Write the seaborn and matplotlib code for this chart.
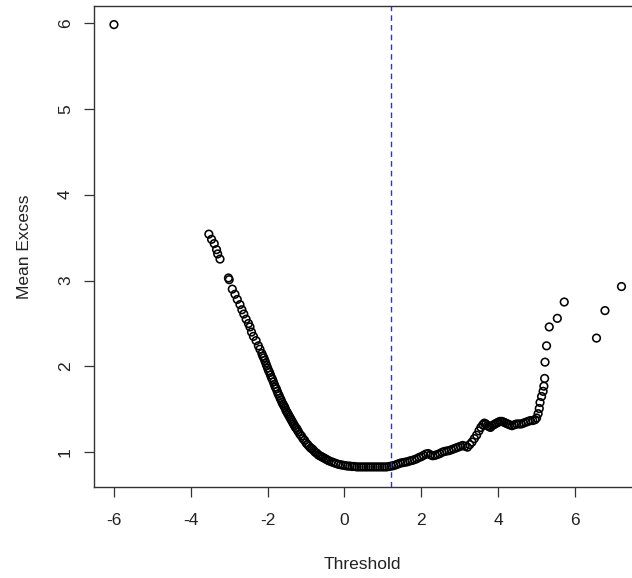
"""Mean excess plot: mean excess vs. threshold, with the chosen threshold marked."""
import matplotlib
matplotlib.use("Agg")
import matplotlib.pyplot as plt
import numpy as np
import pandas as pd
import seaborn as sns

# valores (threshold, mean excess)
threshold = [
    -6.00,
    -3.53, -3.46, -3.39, -3.33, -3.30, -3.24,
    -3.02, -3.00, -2.92, -2.85, -2.79, -2.72, -2.67, -2.62, -2.56, -2.50,
    -2.46, -2.42, -2.37, -2.30, -2.24, -2.20,
    -2.150, -2.125, -2.100, -2.075, -2.050, -2.025, -2.000, -1.975, -1.950, -1.925,
    -1.900, -1.875, -1.850, -1.825, -1.800, -1.775, -1.750, -1.725, -1.700, -1.675,
    -1.650, -1.625, -1.600, -1.575, -1.550, -1.525, -1.500, -1.475, -1.450, -1.425,
    -1.400, -1.375, -1.350, -1.325, -1.300, -1.275, -1.250, -1.225, -1.200,
    -1.16, -1.12, -1.08, -1.04, -1.00, -0.96, -0.92, -0.88, -0.84, -0.80,
    -0.76, -0.72, -0.68, -0.64, -0.60, -0.56, -0.52, -0.48, -0.44, -0.40,
    -0.34, -0.28, -0.22, -0.16, -0.10, -0.04, 0.02, 0.08, 0.14, 0.20,
    0.26, 0.32, 0.38, 0.44, 0.50, 0.56, 0.62, 0.68, 0.74, 0.80,
    0.86, 0.92, 0.98, 1.04, 1.10, 1.16, 1.22, 1.28, 1.34, 1.40,
    1.46, 1.52, 1.58, 1.64, 1.70, 1.76, 1.82, 1.88, 1.94, 2.00,
    2.06, 2.12, 2.18, 2.24, 2.30, 2.36, 2.42, 2.48, 2.54, 2.60,
    2.66, 2.72, 2.78, 2.84, 2.90, 2.96, 3.02, 3.08, 3.14, 3.20,
    3.26, 3.32, 3.38, 3.44, 3.50,
    3.55, 3.60, 3.64, 3.68, 3.72, 3.76, 3.80, 3.84, 3.88, 3.92,
    3.96, 4.00, 4.05, 4.10, 4.15, 4.20, 4.25, 4.30, 4.36, 4.42,
    4.48, 4.54, 4.60, 4.66, 4.72, 4.78, 4.84, 4.90, 4.96, 5.00,
    5.04, 5.07, 5.09, 5.13, 5.17, 5.19, 5.21, 5.22, 5.26, 5.33,
    5.54, 5.72, 6.56, 6.78, 7.21,
]
mean_excess = [
    5.98,
    3.54, 3.48, 3.43, 3.36, 3.31, 3.25,
    3.03, 3.01, 2.90, 2.84, 2.78, 2.72, 2.66, 2.61, 2.55, 2.50,
    2.46, 2.40, 2.35, 2.30, 2.24, 2.20,
    2.15, 2.12, 2.10, 2.07, 2.04, 2.01, 1.98, 1.95, 1.93, 1.90,
    1.87, 1.85, 1.82, 1.79, 1.76, 1.74, 1.71, 1.68, 1.66, 1.63,
    1.61, 1.58, 1.56, 1.54, 1.52, 1.49, 1.47, 1.45, 1.43, 1.41,
    1.39, 1.37, 1.35, 1.33, 1.31, 1.29, 1.28, 1.26, 1.24,
    1.21, 1.19, 1.16, 1.14, 1.11, 1.09, 1.07, 1.05, 1.04, 1.02,
    1.00, 0.99, 0.97, 0.96, 0.95, 0.94, 0.93, 0.92, 0.91, 0.90,
    0.89, 0.88, 0.87, 0.86, 0.855, 0.85, 0.845, 0.84, 0.84, 0.835,
    0.835, 0.83, 0.83, 0.83, 0.83, 0.83, 0.83, 0.83, 0.83, 0.83,
    0.83, 0.83, 0.83, 0.83, 0.83, 0.835, 0.84, 0.845, 0.855, 0.865,
    0.875, 0.88, 0.885, 0.89, 0.90, 0.905, 0.915, 0.925, 0.94, 0.95,
    0.965, 0.98, 0.985, 0.97, 0.96, 0.965, 0.975, 0.985, 1.00, 1.01,
    1.015, 1.02, 1.03, 1.04, 1.05, 1.06, 1.07, 1.08, 1.07, 1.06,
    1.09, 1.12, 1.16, 1.20, 1.25,
    1.29, 1.32, 1.34, 1.33, 1.31, 1.30, 1.29, 1.31, 1.32, 1.33,
    1.34, 1.35, 1.36, 1.36, 1.35, 1.34, 1.33, 1.32, 1.31, 1.32,
    1.33, 1.33, 1.33, 1.34, 1.35, 1.36, 1.37, 1.37, 1.38, 1.40,
    1.45, 1.51, 1.58, 1.65, 1.71, 1.77, 1.86, 2.05, 2.24, 2.46,
    2.56, 2.75, 2.33, 2.65, 2.93,
]
chosen_threshold = 1.2
x_ticks = [-6, -4, -2, 0, 2, 4, 6]
y_ticks = [1, 2, 3, 4, 5, 6]

df = pd.DataFrame({"Threshold": threshold, "Mean Excess": mean_excess})

sns.set_theme(style="ticks")
plt.rcParams["font.family"] = ["Liberation Sans", "DejaVu Sans"]

fig = plt.figure(figsize=(6.32, 5.78), dpi=100)
ax = fig.add_axes([0.1487, 0.1580, 0.8687, 0.8317])

# circulos abertos, traco um pouco grosso como no grafico original do R
sns.scatterplot(data=df, x="Threshold", y="Mean Excess", ax=ax, marker="o",
                s=30, facecolor="none", edgecolor="black", linewidth=1.15)
ax.axvline(chosen_threshold, color="#2B2BFF", linestyle=(0, (4, 3)), linewidth=1.0)

ax.set_xlim(-6.52, 7.77)
ax.set_ylim(0.60, 6.197)
ax.set_xticks(x_ticks)
ax.set_yticks(y_ticks)
ax.set_xticklabels([str(v) for v in x_ticks])
ax.set_yticklabels([str(v) for v in y_ticks], rotation=90, va="center")

for side in ["left", "right", "top", "bottom"]:
    ax.spines[side].set_visible(True)
    ax.spines[side].set_color("#333333")
    ax.spines[side].set_linewidth(1.0)

ax.tick_params(axis="both", direction="out", length=7.2, width=0.9, color="#333333",
               labelsize=12.5, labelcolor="#222222")
ax.tick_params(axis="x", pad=12)
ax.tick_params(axis="y", pad=8)

ax.set_xlabel("Threshold", fontsize=12.5, color="#222222")
ax.set_ylabel("Mean Excess", fontsize=12.5, color="#222222")
ax.xaxis.set_label_coords(0.5 - (643 + 94 - 2 * 362) / 2 / 549, -0.147)
ax.yaxis.set_label_coords(-0.112, 0.5)

fig.savefig("out.png", dpi=100)
